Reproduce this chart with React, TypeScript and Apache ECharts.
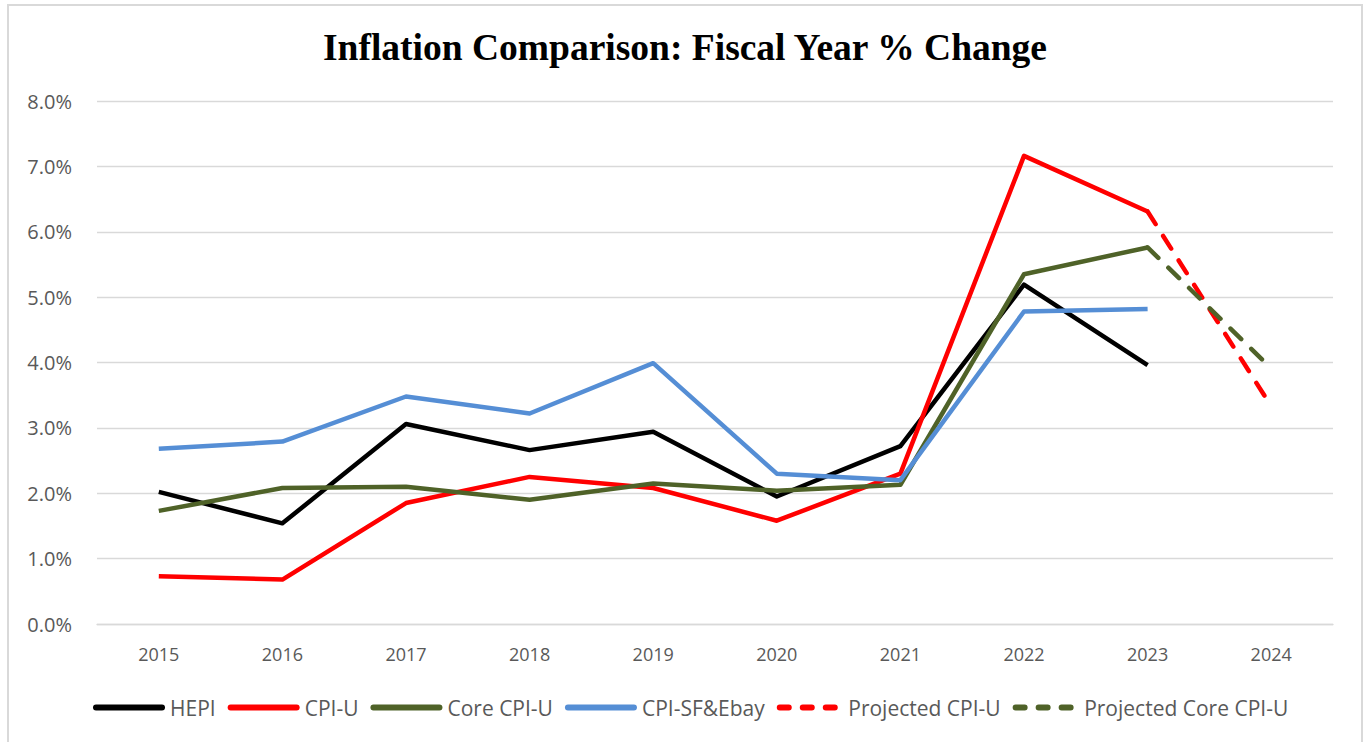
import React, { useEffect, useRef } from "react";
import * as echarts from "echarts";

const years = ["2015", "2016", "2017", "2018", "2019", "2020", "2021", "2022", "2023", "2024"];
const hepi = [2.02, 1.54, 3.06, 2.66, 2.94, 1.95, 2.72, 5.19, 3.96, null];
const cpiU = [0.73, 0.68, 1.85, 2.25, 2.08, 1.58, 2.3, 7.16, 6.31, null];
const coreCpiU = [1.73, 2.08, 2.1, 1.9, 2.15, 2.04, 2.13, 5.35, 5.76, null];
const cpiSfEbay = [2.68, 2.79, 3.48, 3.22, 3.99, 2.3, 2.2, 4.78, 4.82, null];
const projCpiU = [null, null, null, null, null, null, null, null, 6.31, 3.33];
const projCoreCpiU = [null, null, null, null, null, null, null, null, 5.76, 3.91];

const FONT = "'Open Sans', 'Noto Sans', sans-serif";

const SOLID_ICON = "path://M3,0 H69 A3,3 0 0 1 69,6 H3 A3,3 0 0 1 3,0 Z";
const DASH_ICON =
  "path://M3,0 H12 A3,3 0 0 1 12,6 H3 A3,3 0 0 1 3,0 Z M26,0 H35 A3,3 0 0 1 35,6 H26 A3,3 0 0 1 26,0 Z M49,0 H58 A3,3 0 0 1 58,6 H49 A3,3 0 0 1 49,0 Z";

export default function App() {
  const ref = useRef<HTMLDivElement>(null);
  useEffect(() => {
    if (!ref.current) return;
    const chart = echarts.init(ref.current, null, { renderer: "svg" });
    const mk = (name: string, data: (number | null)[], color: string, dashed = false) => ({
      name,
      type: "line",
      data,
      symbol: "none",
      showSymbol: false,
      connectNulls: false,
      lineStyle: {
        color,
        width: 4.5,
        type: dashed ? [15, 14] : "solid",
        cap: dashed ? "round" : "butt",
        join: "round",
      },
      itemStyle: { color },
    });
    chart.setOption({
      animation: false,
      backgroundColor: "#ffffff",
      title: {
        text: "Inflation Comparison: Fiscal Year % Change",
        left: 680,
        textAlign: "center",
        top: 23,
        textStyle: {
          fontFamily: "'Liberation Serif', 'Times New Roman', serif",
          fontWeight: "bold",
          fontSize: 37.5,
          color: "#000000",
        },
      },
      graphic: [
        {
          type: "rect",
          shape: { x: 8, y: 5, width: 1354, height: 760 },
          style: { fill: "none", stroke: "#d9d9d9", lineWidth: 2 },
          silent: true,
        },
      ],
      legend: {
        top: 692,
        left: 88,
        itemWidth: 72,
        itemHeight: 6,
        itemGap: 12,
        textStyle: { color: "#595959", fontSize: 21, fontFamily: FONT },
        data: [
          { name: "HEPI", icon: SOLID_ICON, itemStyle: { color: "#000000" } },
          { name: "CPI-U", icon: SOLID_ICON, itemStyle: { color: "#ff0000" } },
          { name: "Core CPI-U", icon: SOLID_ICON, itemStyle: { color: "#4f6228" } },
          { name: "CPI-SF&Ebay", icon: SOLID_ICON, itemStyle: { color: "#558ed5" } },
          { name: "Projected CPI-U", icon: DASH_ICON, itemStyle: { color: "#ff0000" } },
          { name: "Projected Core CPI-U", icon: DASH_ICON, itemStyle: { color: "#4f6228" } },
        ],
      },
      grid: { left: 97, right: 30, top: 101, bottom: 118, containLabel: false },
      xAxis: {
        type: "category",
        data: years,
        boundaryGap: true,
        axisLine: { show: true, lineStyle: { color: "#d9d9d9", width: 1.3 } },
        axisTick: { show: false },
        axisLabel: { color: "#595959", fontSize: 18, fontFamily: FONT, margin: 21 },
      },
      yAxis: {
        type: "value",
        min: 0,
        max: 8,
        interval: 1,
        axisLine: { show: false },
        axisTick: { show: false },
        splitLine: { lineStyle: { color: "#d9d9d9", width: 1.3 } },
        axisLabel: {
          color: "#595959",
          fontSize: 20,
          fontFamily: FONT,
          margin: 25,
          formatter: (v: number) => v.toFixed(1) + "%",
        },
      },
      series: [
        mk("HEPI", hepi, "#000000"),
        mk("CPI-U", cpiU, "#ff0000"),
        mk("Core CPI-U", coreCpiU, "#4f6228"),
        mk("CPI-SF&Ebay", cpiSfEbay, "#558ed5"),
        mk("Projected CPI-U", projCpiU, "#ff0000", true),
        mk("Projected Core CPI-U", projCoreCpiU, "#4f6228", true),
      ],
    });
    return () => chart.dispose();
  }, []);
  return (
    <div
      ref={ref}
      style={{ position: "absolute", left: 0, top: 0, width: 1363, height: 742 }}
    />
  );
}
